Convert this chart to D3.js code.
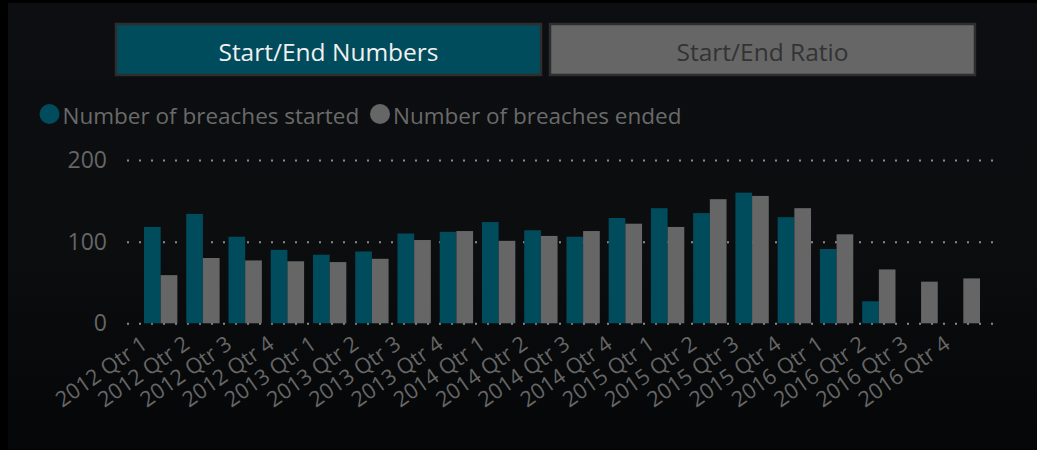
<!DOCTYPE html>
<html>
<head>
<meta charset="utf-8">
<script src="https://cdn.jsdelivr.net/npm/d3@7"></script>
<style>
  html, body { margin: 0; padding: 0; background: #000; }
  #chart { width: 1037px; height: 450px; overflow: hidden; }
  text { font-family: "Open Sans", sans-serif; }
</style>
</head>
<body>
<div id="chart"></div>
<script>
var quarters = ["2012 Qtr 1", "2012 Qtr 2", "2012 Qtr 3", "2012 Qtr 4",
                "2013 Qtr 1", "2013 Qtr 2", "2013 Qtr 3", "2013 Qtr 4",
                "2014 Qtr 1", "2014 Qtr 2", "2014 Qtr 3", "2014 Qtr 4",
                "2015 Qtr 1", "2015 Qtr 2", "2015 Qtr 3", "2015 Qtr 4",
                "2016 Qtr 1", "2016 Qtr 2", "2016 Qtr 3", "2016 Qtr 4"];
var started = [118, 134, 106, 90, 84, 88, 110, 112, 124, 114,
               106, 129, 141, 135, 160, 130, 91, 27, null, null];
var ended = [59, 80, 77, 76, 75, 79, 102, 113, 101, 107,
             113, 122, 118, 152, 156, 141, 109, 66, 51, 55];
var seriesNames = ["Number of breaches started", "Number of breaches ended"];
var buttonLabels = ["Start/End Numbers", "Start/End Ratio"];
var yTicks = [0, 100, 200];

var w = 1037, h = 450;
var teal = "#004b5c", grey = "#666666";

var svg = d3.select("#chart")
  .append("svg")
  .attr("width", w)
  .attr("height", h);

// panel background
var defs = svg.append("defs");
var grad = defs.append("linearGradient")
  .attr("id", "bg")
  .attr("x1", 0).attr("y1", 0)
  .attr("x2", 0).attr("y2", 1);
grad.append("stop").attr("offset", "0%").attr("stop-color", "#0c0e11");
grad.append("stop").attr("offset", "55%").attr("stop-color", "#0b0d0f");
grad.append("stop").attr("offset", "100%").attr("stop-color", "#050607");

svg.append("rect")
  .attr("width", w).attr("height", h)
  .attr("fill", "#000");
svg.append("rect")
  .attr("x", 8).attr("y", 3)
  .attr("width", w - 8).attr("height", h - 3)
  .attr("fill", "url(#bg)");

// toggle buttons
var buttons = svg.selectAll(".button")
  .data(buttonLabels)
  .enter()
  .append("g")
  .attr("class", "button")
  .attr("transform", function(d, i) { return "translate(" + (116 + i * 434) + ",24)"; });

buttons.append("rect")
  .attr("width", 425)
  .attr("height", 51)
  .attr("fill", function(d, i) { return i == 0 ? teal : grey; })
  .attr("stroke", "#2e2e2e")
  .attr("stroke-width", 2.5);

buttons.append("text")
  .attr("x", 212.5)
  .attr("y", 27)
  .attr("text-anchor", "middle")
  .attr("dominant-baseline", "central")
  .attr("font-size", "24.5px")
  .attr("fill", function(d, i) { return i == 0 ? "#f0f0f0" : "#333333"; })
  .text(function(d) { return d; });

// legend
var legendX = [49.5, 380];
var legend = svg.selectAll(".legend")
  .data(seriesNames)
  .enter()
  .append("g")
  .attr("class", "legend")
  .attr("transform", function(d, i) { return "translate(" + legendX[i] + ",114)"; });

legend.append("circle")
  .attr("r", 10)
  .attr("fill", function(d, i) { return i == 0 ? teal : grey; });

legend.append("text")
  .attr("x", 13)
  .attr("y", 1)
  .attr("dominant-baseline", "central")
  .attr("font-size", "22.5px")
  .attr("fill", "#6a6a6a")
  .text(function(d) { return d; });

// scales
var xScale = d3.scaleBand()
  .domain(quarters)
  .range([144, 980])
  .paddingInner(0.21)
  .paddingOuter(0);

var yScale = d3.scaleLinear()
  .domain([0, 200])
  .range([323.3, 160]);

// gridlines + y labels
var yAxis = svg.append("g")
  .attr("transform", "translate(127,0)")
  .call(d3.axisLeft(yScale).tickValues(yTicks).tickSize(-866).tickPadding(20));

yAxis.select(".domain").remove();
yAxis.selectAll(".tick line")
  .attr("stroke", "#8a8a8a")
  .attr("stroke-width", 2)
  .attr("stroke-dasharray", "2 10");
yAxis.selectAll(".tick text")
  .attr("font-family", "Open Sans, sans-serif")
  .attr("font-size", "23px")
  .attr("fill", "#666666");

// bars
var bw = xScale.bandwidth() / 2;

svg.selectAll(".started")
  .data(started)
  .enter()
  .filter(function(d) { return d != null; })
  .append("rect")
  .attr("class", "started")
  .attr("x", function(d, i) { return xScale(quarters[i]); })
  .attr("y", function(d) { return yScale(d); })
  .attr("width", bw)
  .attr("height", function(d) { return yScale(0) - yScale(d); })
  .attr("fill", teal);

svg.selectAll(".ended")
  .data(ended)
  .enter()
  .append("rect")
  .attr("class", "ended")
  .attr("x", function(d, i) { return xScale(quarters[i]) + bw; })
  .attr("y", function(d) { return yScale(d); })
  .attr("width", bw)
  .attr("height", function(d) { return yScale(0) - yScale(d); })
  .attr("fill", grey);

// x labels, rotated
svg.selectAll(".xlabel")
  .data(quarters)
  .enter()
  .append("text")
  .attr("class", "xlabel")
  .attr("transform", function(d) {
    return "translate(" + (xScale(d) + xScale.bandwidth() / 2 - 21) + ",334) rotate(-35)";
  })
  .attr("text-anchor", "end")
  .attr("dy", "0.75em")
  .attr("font-size", "21.5px")
  .attr("fill", "#666666")
  .text(function(d) { return d; });
</script>
</body>
</html>
